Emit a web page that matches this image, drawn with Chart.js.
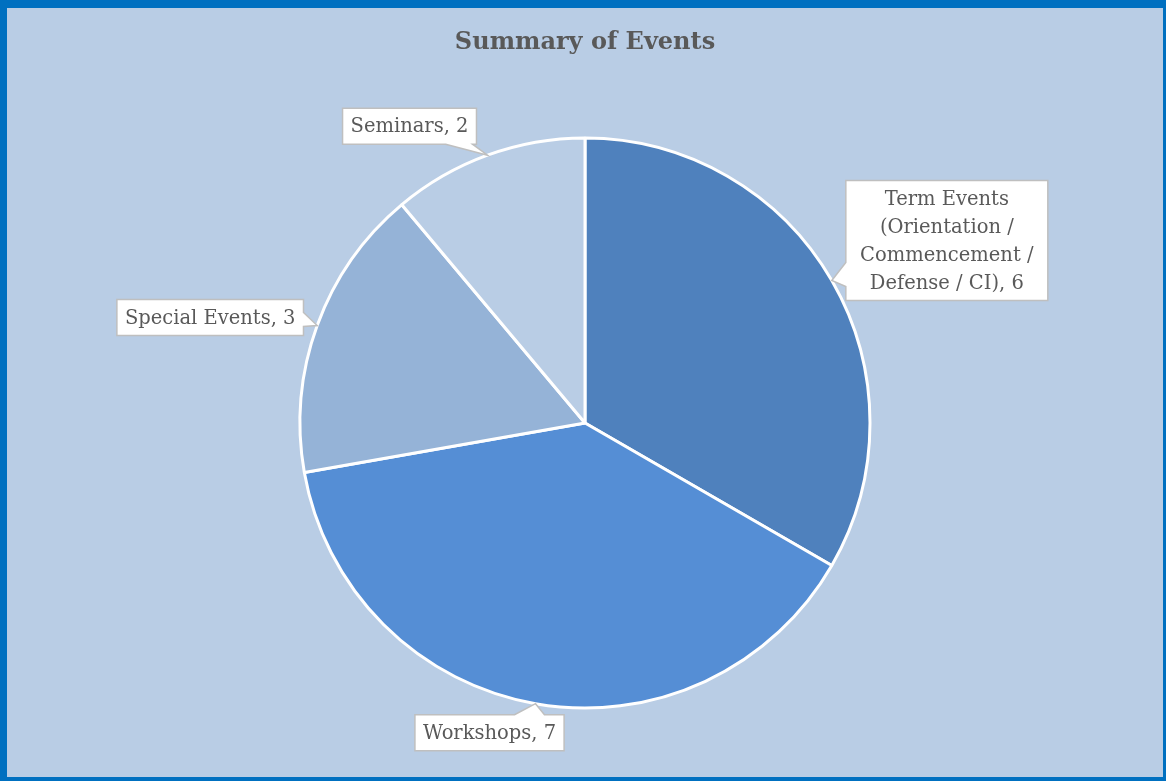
<!DOCTYPE html>
<html>
<head>
<meta charset="utf-8">
<script src="https://cdn.jsdelivr.net/npm/chart.js@4"></script>
<style>
  html, body { margin: 0; padding: 0; background: #fff; }
  #frame {
    width: 1166px; height: 781px; box-sizing: border-box;
    border-style: solid; border-color: #0070c0;
    border-width: 8px 3px 4px 7px;
    background: #b9cde5;
  }
  #frame canvas { display: block; }
</style>
</head>
<body>
<div id="frame"><canvas id="eventsChart" width="1156" height="769"></canvas></div>
<script>
const categories = [
  "Term Events (Orientation / Commencement / Defense / CI)",
  "Workshops",
  "Special Events",
  "Seminars"
];
const eventCounts = [6, 7, 3, 2];
const sliceColors = ["#4f81bd", "#558ed5", "#95b3d7", "#b9cde5"];

// where each callout box sits, relative to the slice's outer midpoint
const calloutOffsets = [[115, -40], [-46, 29], [-107, -8], [-78, -29]];
const LABEL_FONT = '19.5px "DejaVu Serif", serif';
const LINE_H = 28;

function wrapText(ctx, text, maxW) {
  const words = text.split(" ");
  const lines = [];
  let cur = "";
  words.forEach(w => {
    const test = cur ? cur + " " + w : w;
    if (cur && ctx.measureText(test).width > maxW) {
      lines.push(cur);
      cur = w;
    } else {
      cur = test;
    }
  });
  if (cur) lines.push(cur);
  return lines;
}

const calloutLabels = {
  id: "calloutLabels",
  afterDatasetsDraw(chart) {
    const ctx = chart.ctx;
    const meta = chart.getDatasetMeta(0);
    const values = chart.data.datasets[0].data;
    ctx.save();
    ctx.font = LABEL_FONT;
    meta.data.forEach((arc, i) => {
      const p = arc.getProps(["x", "y", "startAngle", "endAngle", "outerRadius"], true);
      const mid = (p.startAngle + p.endAngle) / 2;
      const tx = p.x + Math.cos(mid) * p.outerRadius;
      const ty = p.y + Math.sin(mid) * p.outerRadius;

      const lines = wrapText(ctx, chart.data.labels[i] + ", " + values[i], 186);
      const textW = Math.max(...lines.map(l => ctx.measureText(l).width));
      const w = (lines.length > 1 ? 186 : textW) + 16;
      const h = lines.length * LINE_H + 8;
      const cx = tx + calloutOffsets[i][0];
      const cy = ty + calloutOffsets[i][1];
      const L = cx - w / 2, R = cx + w / 2, T = cy - h / 2, B = cy + h / 2;

      // pick the side facing the tip and build a wedge on it
      let side;
      if (tx < L) side = "left";
      else if (tx > R && ty >= T && ty <= B) side = "right";
      else if (ty > B) side = "bottom";
      else side = "top";
      const horiz = side === "top" || side === "bottom";
      const len = horiz ? w : h;
      const bw = Math.max(14, Math.min(34, len * 0.2));
      const lo = (horiz ? L : T) + bw / 2 + 4;
      const hi = (horiz ? R : B) - bw / 2 - 16;
      const c = Math.min(Math.max((horiz ? tx : ty) - 6, lo), Math.max(lo, hi + 12));
      const a = c - bw / 2, b = c + bw / 2;

      ctx.beginPath();
      ctx.moveTo(L, T);
      if (side === "top") { ctx.lineTo(a, T); ctx.lineTo(tx, ty); ctx.lineTo(b, T); }
      ctx.lineTo(R, T);
      if (side === "right") { ctx.lineTo(R, a); ctx.lineTo(tx, ty); ctx.lineTo(R, b); }
      ctx.lineTo(R, B);
      if (side === "bottom") { ctx.lineTo(b, B); ctx.lineTo(tx, ty); ctx.lineTo(a, B); }
      ctx.lineTo(L, B);
      if (side === "left") { ctx.lineTo(L, b); ctx.lineTo(tx, ty); ctx.lineTo(L, a); }
      ctx.closePath();
      ctx.fillStyle = "#ffffff";
      ctx.fill();
      ctx.strokeStyle = "#bfbfbf";
      ctx.lineWidth = 1.5;
      ctx.stroke();

      ctx.fillStyle = "#595959";
      ctx.textAlign = "center";
      ctx.textBaseline = "middle";
      lines.forEach((l, k) => {
        ctx.fillText(l, cx, T + 4 + LINE_H * (k + 0.5) + 1);
      });
    });
    ctx.restore();
  }
};

const ctx = document.getElementById("eventsChart").getContext("2d");
new Chart(ctx, {
  type: "pie",
  data: {
    labels: categories,
    datasets: [{
      data: eventCounts,
      backgroundColor: sliceColors,
      borderColor: "#ffffff",
      borderWidth: 3
    }]
  },
  options: {
    responsive: false,
    animation: false,
    radius: 285,
    layout: { padding: 0 },
    plugins: {
      legend: { display: false },
      tooltip: { enabled: false },
      title: {
        display: true,
        text: "Summary of Events",
        color: "#595959",
        font: { family: '"DejaVu Serif", serif', size: 24, weight: "bold", lineHeight: 1.2 },
        padding: { top: 20, bottom: 12.2 }
      }
    }
  },
  plugins: [calloutLabels]
});
</script>
</body>
</html>
